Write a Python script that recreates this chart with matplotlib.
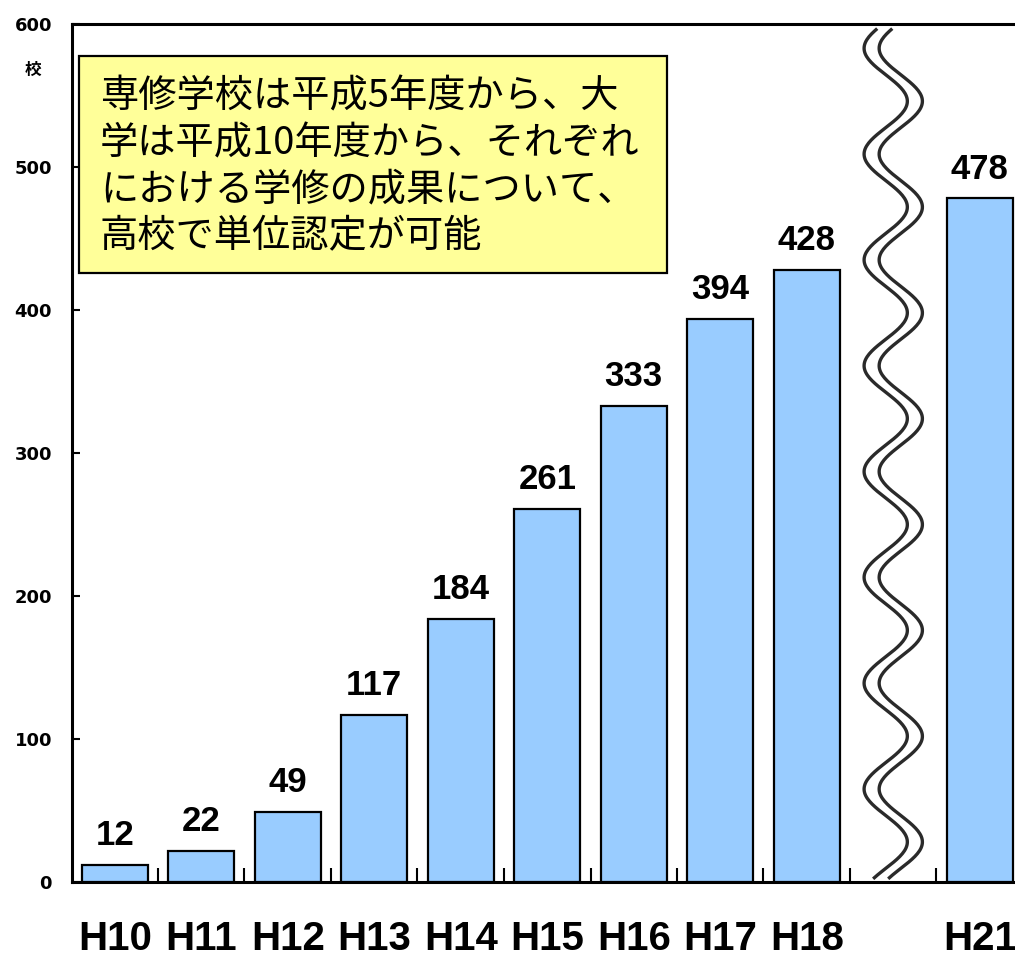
import numpy as np
import matplotlib.pyplot as plt
from matplotlib.patches import Rectangle

years = ['H10', 'H11', 'H12', 'H13', 'H14', 'H15', 'H16', 'H17', 'H18', 'H21']
schools = [12, 22, 49, 117, 184, 261, 333, 394, 428, 478]
positions = [0, 1, 2, 3, 4, 5, 6, 7, 8, 10]  # slot 9 is the axis break
yticks = [0, 100, 200, 300, 400, 500, 600]
note_lines = ['専修学校は平成5年度から、大',
              '学は平成10年度から、それぞれ',
              'における学修の成果について、',
              '高校で単位認定が可能']

narrow = 'Liberation Sans'
jp = ['Noto Sans CJK JP', 'DejaVu Sans']

W, H = 1015, 959
fig = plt.figure(figsize=(W / 100, H / 100), dpi=100)
ax = fig.add_axes([71.5 / W, 77 / H, (1023 - 71.5) / W, 858 / H])

ax.bar(positions, schools, width=0.76, color='#99CCFF', edgecolor='black', linewidth=1.6, zorder=3)
for x, v in zip(positions, schools):
    ax.annotate(str(v), (x, v), xytext=(0, 9), textcoords='offset points',
                ha='center', va='bottom', fontsize=25, fontweight='bold', family=narrow)

ax.set_xlim(-0.5, 10.5)
ax.set_ylim(0, 600)
ax.set_yticks(yticks)
ax.set_yticklabels([str(t) for t in yticks], fontsize=13, fontweight='bold')
ax.tick_params(axis='y', direction='in', length=6, width=1.5, pad=14)

ax.set_xticks(positions)
ax.set_xticklabels(years, fontsize=29, fontweight='bold', family=narrow)
ax.set_xticks(np.arange(0.5, 10, 1), minor=True)
ax.tick_params(axis='x', which='major', length=0, pad=27)
ax.tick_params(axis='x', which='minor', direction='in', length=10, width=1.5)

for s in ['left', 'bottom', 'top']:
    ax.spines[s].set_linewidth(2.2)
ax.spines['right'].set_visible(False)

# wavy break marks in the empty slot
yy = np.linspace(3, 596, 600)
xx = 9 - 0.25 * np.cos(2 * np.pi * (583 - yy) / 74)
for off in (-0.087, 0.087):
    ax.plot(xx + off, yy, color='#2a2a2a', lw=2.4, zorder=4, clip_on=False)

fig.text(33 / W, 1 - 70 / H, '校', family=jp, fontsize=12, fontweight='bold', ha='center', va='center')

fig.patches.append(Rectangle((79 / W, 1 - 273 / H), 588 / W, 217 / H, transform=fig.transFigure,
                             facecolor='#FFFF99', edgecolor='black', linewidth=1.6, zorder=5))
for i, line in enumerate(note_lines):
    fig.text(100 / W, 1 - (97 + 46.7 * i) / H, line, family=jp, fontsize=27.5,
             ha='left', va='center', zorder=6)

fig.savefig('out.png', dpi=100)
